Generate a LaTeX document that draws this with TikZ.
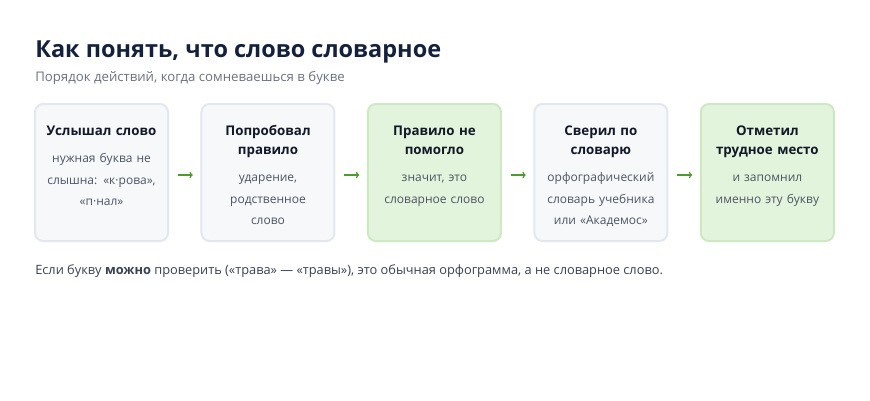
\documentclass[tikz,border=0pt]{standalone}
\usepackage{fontspec}
\setmainfont{Open Sans}
\usetikzlibrary{positioning,arrows.meta}
\definecolor{titelblau}{HTML}{14213D}
\definecolor{untergrau}{HTML}{6B7280}
\definecolor{kopfschwarz}{HTML}{111827}
\definecolor{rumpfgrau}{HTML}{4B5563}
\definecolor{fussgrau}{HTML}{374151}
\definecolor{kastenrand}{HTML}{E3E7EF}
\definecolor{kastengrund}{HTML}{F7F8FA}
\definecolor{gruenrand}{HTML}{CDE8C3}
\definecolor{gruengrund}{HTML}{E3F4DC}
\definecolor{pfeilgruen}{HTML}{4E9A2E}
\def \kastenBreite {99.75pt}
\def \kastenHoehe {102.75pt}
\def \textBreite {90pt}
\def \luecke {25.1pt}

\tikzset{
  kasten/.style={draw=kastenrand,fill=kastengrund,line width=1.5pt,rounded corners=6pt,
    minimum width=\kastenBreite,minimum height=\kastenHoehe,inner sep=0pt,outer sep=0pt},
  gruen/.style={kasten,draw=gruenrand,fill=gruengrund},
  kopf/.style={font=\fontsize{10}{14.25}\selectfont\bfseries,text=kopfschwarz,align=center,
    text width=\textBreite,inner sep=0pt,text height=0pt,execute at end node=\strut},
  rumpf/.style={font=\fontsize{9}{15.9}\selectfont,text=rumpfgrau,align=center,
    text width=\textBreite,inner sep=0pt,text height=0pt},
  pfeil/.style={draw=pfeilgruen,line width=0.9pt,-{To[length=2.5pt,width=5pt]}}
}

\begin{document}
\begin{tikzpicture}[x=0.75pt,y=-0.75pt]
  \useasboundingbox[fill=white] (0,0) rectangle (870,400);
  \node[anchor=base west,inner sep=0pt,font=\fontsize{17.6}{22}\selectfont\bfseries,text=titelblau]
  (titel) at (35,57) {Как понять, что слово словарное};
  \node[anchor=base west,inner sep=0pt,font=\fontsize{9.9}{12}\selectfont,text=untergrau]
  (untertitel) at (35,81) {Порядок действий, когда сомневаешься в букве};

  % die fuenf Schritte
  \node[kasten,anchor=north west] (s1) at (35,104) {};
  \node[kasten,right=\luecke of s1] (s2) {};
  \node[gruen,right=\luecke of s2] (s3) {};
  \node[kasten,right=\luecke of s3] (s4) {};
  \node[gruen,right=\luecke of s4] (s5) {};

  \node[kopf,below=23.6pt of s1.north] (k1) {Услышал слово};
  \node[rumpf,below=15.7pt of k1] (r1) {нужная буква не\\слышна: «к·рова»,\\«п·нал»};
  \node[kopf,below=23.6pt of s2.north] (k2) {Попробовал\\правило};
  \node[rumpf,below=15.7pt of k2] (r2) {ударение,\\родственное\\слово};
  \node[kopf,below=23.6pt of s3.north] (k3) {Правило не\\помогло};
  \node[rumpf,below=15.7pt of k3] (r3) {значит, это\\словарное слово};
  \node[kopf,below=23.6pt of s4.north] (k4) {Сверил по\\словарю};
  \node[rumpf,below=15.7pt of k4] (r4) {орфографический\\словарь учебника\\или «Академос»};
  \node[kopf,below=23.6pt of s5.north] (k5) {Отметил\\трудное место};
  \node[rumpf,below=15.7pt of k5] (r5) {и запомнил\\именно эту букву};

  \foreach \a/\b in {s1/s2,s2/s3,s3/s4,s4/s5}
    \draw[pfeil] ([xshift=7.5pt,yshift=-1.9pt]\a.east) -- ([xshift=-6.5pt,yshift=-1.9pt]\b.west);

  \node[below right=24.8pt and 0pt of s1.south west,inner sep=0pt,text height=0pt,
    font=\fontsize{9.6}{12}\selectfont,text=fussgrau] (fuss)
  {Если букву \textbf{можно} проверить («трава» — «травы»), это обычная орфограмма, а не словарное слово.};
\end{tikzpicture}
\end{document}
